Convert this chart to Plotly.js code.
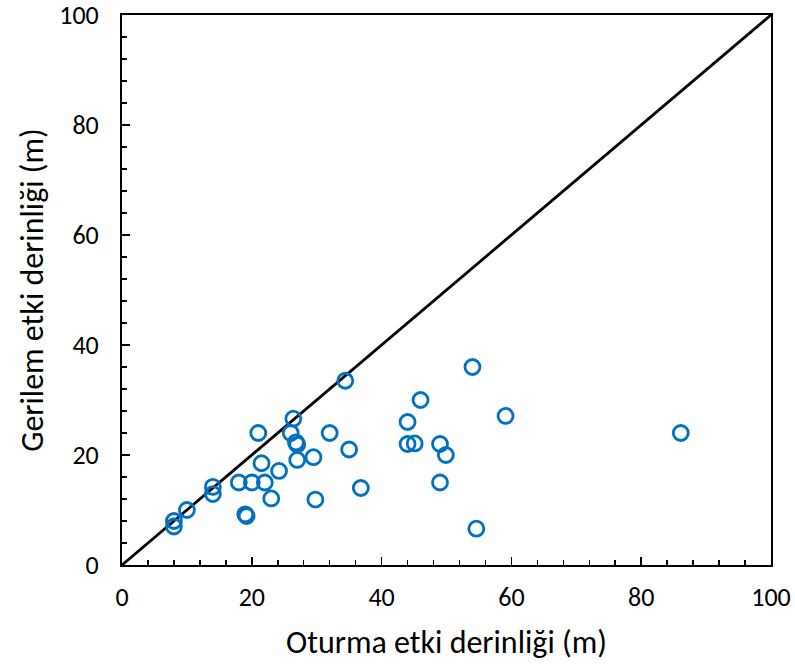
<!DOCTYPE html>
<html>
<head>
<meta charset="utf-8">
<script src="https://cdn.plot.ly/plotly-3.0.1.min.js"></script>
<style>html,body{margin:0;padding:0;background:#fff;}</style>
</head>
<body>
<div id="chart" style="width:795px;height:666px;"></div>
<script>
const oturma = [8, 8, 10, 14, 14, 18, 20, 22, 19, 19.2, 21, 21.5, 23, 24.2, 26, 26.4, 26.8, 27, 27, 29.5, 29.8, 32, 34.4, 35, 36.8, 44, 44, 45.1, 46, 49, 49.9, 49, 54, 54.6, 59.1, 86.1];
const gerilem = [8, 7, 10, 14.2, 12.9, 15, 15, 15, 9.2, 8.9, 24, 18.5, 12.1, 17.1, 24, 26.6, 22.3, 21.9, 19.1, 19.6, 11.9, 24, 33.5, 21, 14, 26, 22, 22.1, 30, 22, 20, 15, 36, 6.6, 27.1, 24];
const lineX = [0, 100];
const lineY = [0, 100];

const fontFam = 'Carlito, Calibri, "Open Sans", sans-serif';

const traces = [
  {x: lineX, y: lineY, mode: 'lines', line: {color: '#000', width: 2.8}, hoverinfo: 'skip'},
  {x: oturma, y: gerilem, mode: 'markers', type: 'scatter',
   marker: {symbol: 'circle-open', size: 15, color: '#0070C0', line: {width: 2.8, color: '#0070C0'}}}
];

const axisCommon = {
  range: [0, 100], dtick: 20, ticks: 'inside', ticklen: 8, tickwidth: 1.5, tickcolor: '#000',
  showline: true, linecolor: '#000', linewidth: 2, mirror: true, showgrid: false, zeroline: false,
  ticklabeloverflow: 'allow',
  tickfont: {family: fontFam, size: 26, color: '#000'},
  minor: {ticks: 'inside', dtick: 4, ticklen: 5, tickwidth: 1.5, tickcolor: '#000', showgrid: false}
};

const layout = {
  width: 795, height: 666,
  margin: {l: 122, r: 24, t: 15, b: 101},
  paper_bgcolor: '#fff', plot_bgcolor: '#fff',
  showlegend: false,
  xaxis: Object.assign({}, axisCommon, {
    ticklabelstandoff: 8,
    title: {text: 'Oturma etki derinliği (m)', font: {family: fontFam, size: 32, color: '#000'}, standoff: 18}
  }),
  yaxis: Object.assign({}, axisCommon, {
    ticklabelstandoff: 16,
    title: {text: 'Gerilem etki derinliği (m)', font: {family: fontFam, size: 32, color: '#000'}, standoff: 6}
  })
};

Plotly.newPlot('chart', traces, layout, {displayModeBar: false, staticPlot: true});
</script>
</body>
</html>
